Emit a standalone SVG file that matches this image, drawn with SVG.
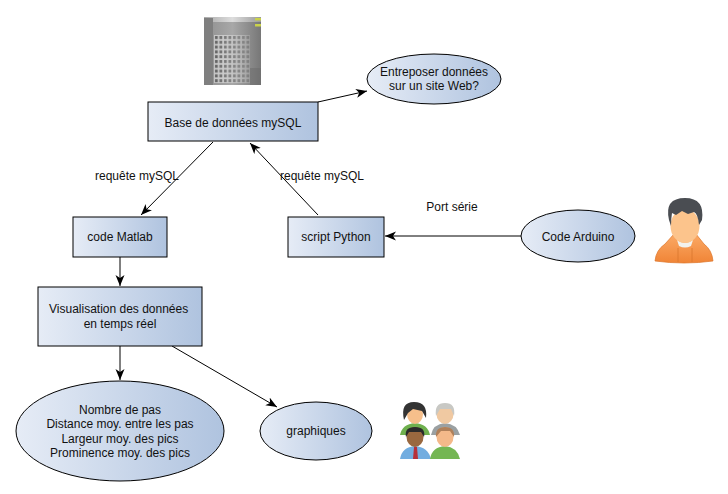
<svg xmlns="http://www.w3.org/2000/svg" width="728" height="494" viewBox="0 0 728 494">
<style>
text{font-family:"Liberation Sans",Arial,sans-serif;font-size:12px;fill:#111;text-anchor:middle}
.n{fill:url(#g);stroke:#000;stroke-width:1}
.c line{stroke:#000;stroke-width:1;marker-end:url(#a)}
</style>
<defs>
<linearGradient id="g" x1="0" y1="0" x2="1" y2="0"><stop offset="0" stop-color="#e6ecf6"/><stop offset="1" stop-color="#afc3df"/></linearGradient>
<linearGradient id="b" x1="0" y1="0" x2="1" y2="0"><stop offset="0" stop-color="#8f8f8f"/><stop offset=".5" stop-color="#a8a8a8"/><stop offset="1" stop-color="#777"/></linearGradient>
<linearGradient id="o" x1="0" y1="0" x2="0" y2="1"><stop offset="0" stop-color="#fbaa66"/><stop offset="1" stop-color="#f08436"/></linearGradient>
<linearGradient id="fd" x1="0" y1="0" x2="1" y2="0"><stop offset="0" stop-color="#fff" stop-opacity="0"/><stop offset="1" stop-color="#8a8a8a" stop-opacity=".7"/></linearGradient>
<linearGradient id="t" x1="0" y1="0" x2="1" y2="0"><stop offset="0" stop-color="#aaa"/><stop offset=".5" stop-color="#ddd"/><stop offset="1" stop-color="#999"/></linearGradient>
<marker id="a" markerWidth="12" markerHeight="10" refX="11" refY="4.500" orient="auto" markerUnits="userSpaceOnUse"><path d="M0 0L11 4.500L0 9L3 4.500Z" fill="#000"/></marker>
<pattern id="w" width="4.500" height="4.800" patternUnits="userSpaceOnUse" x="214" y="35"><rect width="4.500" height="4.800" fill="#c6c6c6"/><rect x="1" y="1" width="2.800" height="3" fill="#5f5f5f"/></pattern>
</defs>
<g class="c">
<line x1="318" y1="102" x2="367" y2="91"/>
<line x1="213" y1="142" x2="141" y2="215"/>
<line x1="318" y1="215" x2="250" y2="143"/>
<line x1="521" y1="236" x2="385" y2="236"/>
<line x1="120" y1="257" x2="120" y2="286"/>
<line x1="120" y1="346" x2="120" y2="380"/>
<line x1="172" y1="346" x2="277" y2="407"/>
</g>
<text x="137" y="180">requête mySQL</text>
<text x="322" y="180">requête mySQL</text>
<text x="452" y="211">Port série</text>
<g id="db">
<rect x="148" y="102" width="170" height="39" class="n"/>
<text x="233" y="127">Base de données mySQL</text>
</g>
<g id="web">
<ellipse cx="434" cy="79" rx="67" ry="25" class="n"/>
<text x="434" y="76">Entreposer données</text>
<text x="434" y="90">sur un site Web?</text>
</g>
<g id="matlab">
<rect x="73" y="217" width="94" height="40" class="n"/>
<text x="120" y="241">code Matlab</text>
</g>
<g id="python">
<rect x="288" y="217" width="96" height="40" class="n"/>
<text x="336" y="241">script Python</text>
</g>
<g id="arduino">
<ellipse cx="578" cy="236" rx="57" ry="26" class="n"/>
<text x="578" y="241">Code Arduino</text>
</g>
<g id="visu">
<rect x="38" y="287" width="164" height="59" class="n"/>
<text x="49" y="313" style="text-anchor:start">Visualisation des données</text>
<text x="120" y="328">en temps réel</text>
</g>
<g id="stats">
<ellipse cx="120" cy="431" rx="104" ry="50" class="n"/>
<text x="120" y="414">Nombre de pas</text>
<text x="120" y="428">Distance moy. entre les pas</text>
<text x="120" y="443">Largeur moy. des pics</text>
<text x="120" y="457">Prominence moy. des pics</text>
</g>
<g id="graph">
<ellipse cx="316" cy="431" rx="56" ry="29" class="n"/>
<text x="316" y="435">graphiques</text>
</g>
<g id="building">
<rect x="204" y="18" width="57" height="67" fill="url(#b)"/>
<rect x="204" y="17" width="57" height="5" fill="url(#t)"/>
<rect x="204" y="18" width="9" height="67" fill="#7f7f7f"/>
<rect x="214" y="35" width="36" height="48" fill="url(#w)"/>
<rect x="214" y="35" width="36" height="48" fill="url(#fd)"/>
<rect x="250" y="68" width="11" height="17" fill="#6a6a6a" opacity=".5"/>
<rect x="255" y="18" width="6" height="2.500" fill="#c9d24a"/>
<rect x="255" y="24" width="6" height="2.500" fill="#c9d24a"/>
</g>
<g id="user">
<path d="M655 261Q656 250 665 244L674 234L696 234L704 244Q712 250 713 261Q684 265 655 261Z" fill="url(#o)" stroke="#dd7428" stroke-width=".7"/>
<path d="M677 240Q685 246 693 240L691 246Q685 249 679 246Z" fill="#f2f2ee"/>
<path d="M678 248V262M692 248V262" stroke="#d9772f" stroke-width=".8" fill="none"/>
<ellipse cx="685" cy="226" rx="14.500" ry="17" fill="#fcc48c"/>
<path d="M669 220Q664 198 685 198Q705 198 702 220L699 225Q698 214 694 212L688 214L682 211L676 215L672 213Q671 219 671 226Z" fill="#4a4d52"/>
</g>
<g id="people">
<path d="M400 435Q402 424 415 423Q428 424 430 435Z" fill="#6fb04e"/>
<ellipse cx="415" cy="414" rx="8" ry="10" fill="#f6bf8b"/>
<path d="M404 420Q400 402 414 402Q428 402 426 418L422 411L413 409L408 413Z" fill="#333"/>
<path d="M431 435Q433 424 445 423Q457 424 460 435Z" fill="#9aa0a2"/>
<ellipse cx="445" cy="414" rx="8.500" ry="10" fill="#f0c9a2"/>
<path d="M436 416Q434 403 445 403Q456 403 454 416L451 409H440Z" fill="#c8c8c4"/>
<path d="M400 459Q402 447 415 446Q428 447 431 459Z" fill="#72ade0"/>
<path d="M414 447h3l1 12h-5Z" fill="#b6303a"/>
<ellipse cx="415" cy="437" rx="8.500" ry="10" fill="#99683f"/>
<path d="M406 437Q404 427 415 427Q426 427 424 437L421 432H409Z" fill="#2b2b2b"/>
<path d="M430 459Q432 447 445 446Q457 447 460 459Z" fill="#74b653"/>
<ellipse cx="445" cy="437" rx="8.500" ry="10" fill="#f4b98a"/>
<path d="M436 437Q435 427 445 427Q455 427 454 437L450 431H441Z" fill="#b0805a"/>
</g>
</svg>
